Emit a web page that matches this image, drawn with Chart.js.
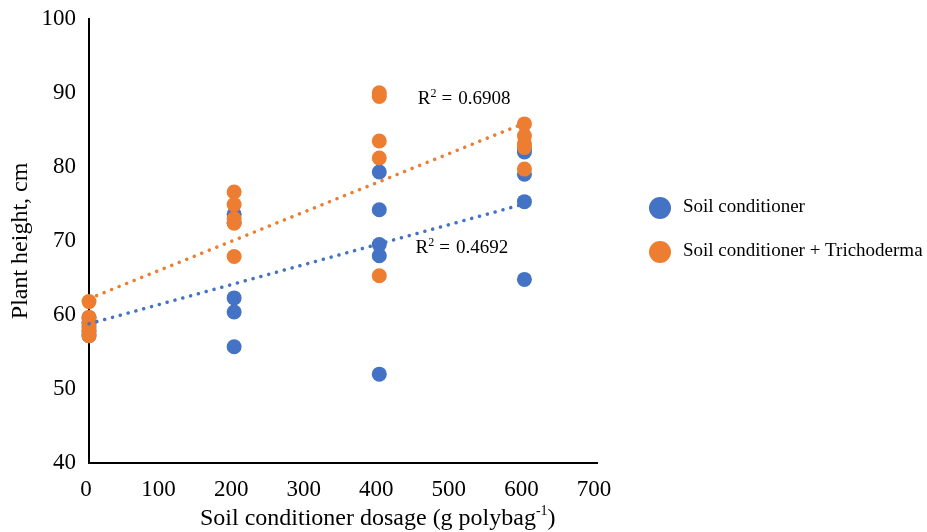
<!DOCTYPE html>
<html lang="en">
<head>
<meta charset="UTF-8">
<title>Plant height vs soil conditioner dosage</title>
<script src="https://cdn.jsdelivr.net/npm/chart.js"></script>
<style>
  html, body { margin: 0; padding: 0; background: #fff; }
  #wrap { width: 927px; height: 532px; position: relative; }
</style>
</head>
<body>
<div id="wrap"><canvas id="chart"></canvas></div>
<script>
// data
const seriesNames = ['Soil conditioner', 'Soil conditioner + Trichoderma'];
const dosage = [0, 0, 0, 0, 0, 200, 200, 200, 200, 200, 400, 400, 400, 400, 400, 600, 600, 600, 600, 600];
const heightSC = [59.6, 59.0, 58.4, 57.8, 57.2, 73.6, 72.5, 62.3, 60.4, 55.7, 79.3, 74.2, 69.5, 68.0, 52.0, 82.4, 82.0, 79.0, 75.3, 64.8];
const heightSCT = [61.8, 59.7, 58.8, 58.0, 57.2, 76.6, 74.9, 73.0, 72.4, 67.9, 90.0, 89.5, 83.5, 81.2, 65.3, 85.8, 84.2, 83.1, 82.6, 79.7];
const trendX = [0, 600];
const trendSC = [58.8, 75.0];
const trendSCT = [62.2, 85.9];
const r2Values = ['0.4692', '0.6908'];

const blue = '#4472C4';
const orange = '#ED7D31';
const serif = '"Liberation Serif", "Times New Roman", serif';

function pts(xs, ys) {
    return xs.map((x, i) => ({ x: x, y: ys[i] }));
}

// draws legend, x title and R² labels
const extras = {
    id: 'extras',
    afterDraw(chart) {
        const ctx = chart.ctx;
        const xs = chart.scales.x, ys = chart.scales.y;
        ctx.save();
        ctx.fillStyle = '#000';
        ctx.textBaseline = 'alphabetic';

        // R² labels (positions in data units)
        function r2(xv, yv, val) {
            let px = xs.getPixelForValue(xv), py = ys.getPixelForValue(yv);
            ctx.font = '19px ' + serif;
            ctx.fillText('R', px, py);
            px += ctx.measureText('R').width;
            ctx.font = '12px ' + serif;
            ctx.fillText('2', px, py - 7);
            px += ctx.measureText('2').width + 5;
            ctx.font = '19px ' + serif;
            ctx.fillText('=', px, py);
            px += ctx.measureText('=').width + 6;
            ctx.fillText(val, px, py);
        }
        r2(453, 88.5, r2Values[1]);
        r2(450, 68.4, r2Values[0]);

        // x axis title with superscript
        let tx = 200, ty = 525;
        ctx.font = '24px ' + serif;
        const t1 = 'Soil conditioner dosage (g polybag';
        ctx.fillText(t1, tx, ty);
        tx += ctx.measureText(t1).width;
        ctx.font = '14px ' + serif;
        ctx.fillText('-1', tx, ty - 10);
        tx += ctx.measureText('-1').width;
        ctx.font = '24px ' + serif;
        ctx.fillText(')', tx, ty);

        // legend
        const cols = [blue, orange];
        const legY = [208, 252];
        ctx.font = '19px ' + serif;
        for (let i = 0; i < 2; i++) {
            ctx.beginPath();
            ctx.arc(660, legY[i], 11, 0, Math.PI * 2);
            ctx.fillStyle = cols[i];
            ctx.fill();
            ctx.fillStyle = '#000';
            ctx.textBaseline = 'middle';
            ctx.fillText(seriesNames[i], 683, legY[i] - 1);
        }
        ctx.restore();
    }
};

const ctx = document.getElementById('chart').getContext('2d');
new Chart(ctx, {
    type: 'scatter',
    data: {
        datasets: [
            {
                label: seriesNames[0],
                data: pts(dosage, heightSC),
                backgroundColor: blue,
                borderColor: blue,
                borderWidth: 0,
                pointRadius: 7.5,
                order: 3,
                clip: false
            },
            {
                label: seriesNames[1],
                data: pts(dosage, heightSCT),
                backgroundColor: orange,
                borderColor: orange,
                borderWidth: 0,
                pointRadius: 7.5,
                order: 2,
                clip: false
            },
            {
                label: 'trend ' + seriesNames[0],
                data: pts(trendX, trendSC),
                showLine: true,
                borderColor: blue,
                borderWidth: 3.5,
                borderDash: [0.1, 8],
                borderCapStyle: 'round',
                pointRadius: 0,
                order: 1,
                clip: false
            },
            {
                label: 'trend ' + seriesNames[1],
                data: pts(trendX, trendSCT),
                showLine: true,
                borderColor: orange,
                borderWidth: 3.5,
                borderDash: [0.1, 8],
                borderCapStyle: 'round',
                pointRadius: 0,
                order: 0,
                clip: false
            }
        ]
    },
    options: {
        responsive: true,
        maintainAspectRatio: false,
        animation: false,
        layout: { padding: { top: 18, right: 330, left: 0, bottom: 0 } },
        plugins: {
            legend: { display: false },
            tooltip: { enabled: false }
        },
        scales: {
            x: {
                min: 0, max: 700,
                grid: { display: false },
                border: { color: '#000', width: 2 },
                ticks: {
                    stepSize: 100,
                    color: '#000',
                    padding: 5,
                    labelOffset: -3,
                    font: { family: serif, size: 23 }
                },
                afterFit(scale) { scale.height = 69; }
            },
            y: {
                min: 40, max: 100,
                grid: { display: false },
                border: { color: '#000', width: 2 },
                ticks: {
                    stepSize: 10,
                    color: '#000',
                    padding: 5,
                    font: { family: serif, size: 23 }
                },
                title: {
                    display: true,
                    text: 'Plant height, cm',
                    color: '#000',
                    font: { family: serif, size: 24 },
                    padding: { top: 6, bottom: 0 }
                },
                afterFit(scale) { scale.width = 89; }
            }
        }
    },
    plugins: [extras]
});
</script>
</body>
</html>
